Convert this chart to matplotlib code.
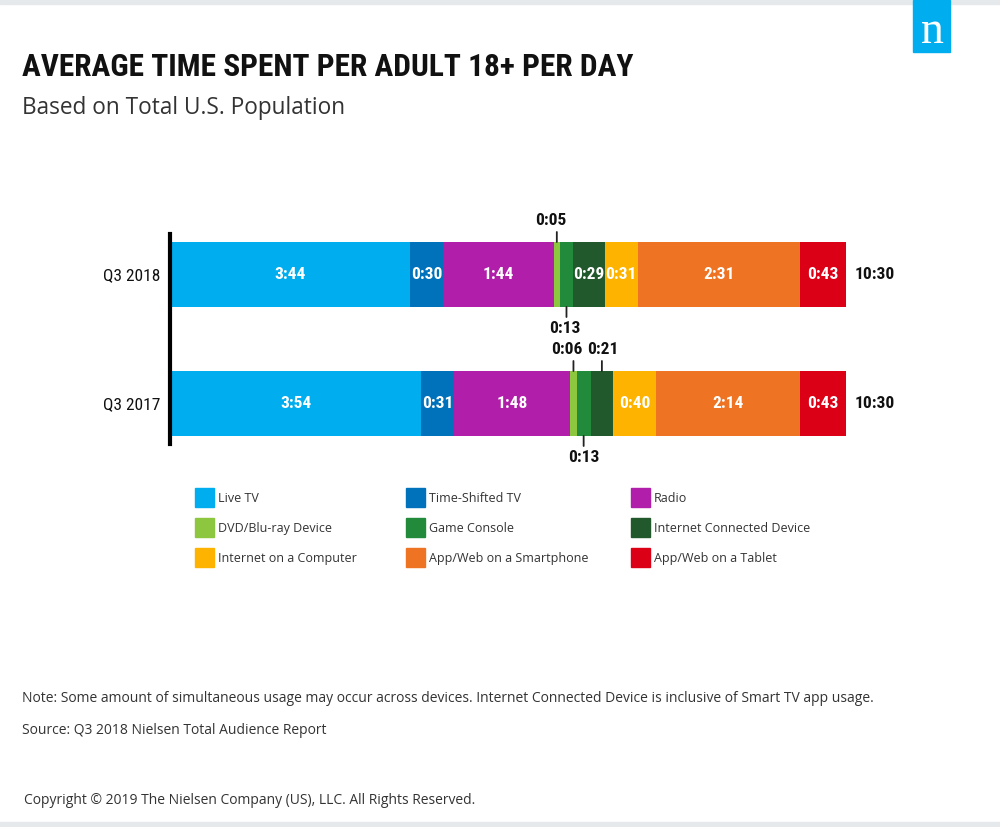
import matplotlib.pyplot as plt
from matplotlib.patches import Rectangle
from matplotlib import font_manager
import numpy as np

W, H = 1000, 827

years = ["Q3 2018", "Q3 2017"]
categories = ["Live TV", "Time-Shifted TV", "Radio",
              "DVD/Blu-ray Device", "Game Console", "Internet Connected Device",
              "Internet on a Computer", "App/Web on a Smartphone", "App/Web on a Tablet"]
colors = ["#00AEEF", "#0072BC", "#B01EAA",
          "#8DC63F", "#228B3B", "#21582C",
          "#FDB300", "#EE7322", "#DC0017"]
# minutes per day
q3_2018 = [224, 30, 104, 5, 13, 29, 31, 151, 43]
q3_2017 = [234, 31, 108, 6, 13, 21, 40, 134, 43]
series = [q3_2018, q3_2017]

# small segments labelled outside the bar: (row, category, side, label shift px)
callouts = [(0, 3, "top", -6), (0, 4, "bottom", -2),
            (1, 3, "top", -7), (1, 5, "top", 1), (1, 4, "bottom", 0)]

title = "AVERAGE TIME SPENT PER ADULT 18+ PER DAY"
subtitle = "Based on Total U.S. Population"
note = ("Note: Some amount of simultaneous usage may occur across devices. "
        "Internet Connected Device is inclusive of Smart TV app usage.")
source = "Source: Q3 2018 Nielsen Total Audience Report"
copyright_txt = "Copyright \u00a9 2019 The Nielsen Company (US), LLC. All Rights Reserved."


def first_font(names):
    for n in names:
        try:
            font_manager.findfont(n, fallback_to_default=False)
            return n
        except ValueError:
            pass
    return "DejaVu Sans"


cond_name = first_font(["Roboto Condensed", "Liberation Sans Narrow", "DejaVu Sans Condensed", "Roboto"])
COND = [cond_name, "DejaVu Sans"]
SANS = ["Open Sans", "DejaVu Sans"]


def hm(m):
    return f"{m // 60}:{m % 60:02d}"


def fx(x):
    return x / W


def fy(y):
    return 1 - y / H


fig = plt.figure(figsize=(W / 100, H / 100), dpi=100)

# grey bands top and bottom
fig.patches.append(Rectangle((0, fy(4)), 1, 4 / H, transform=fig.transFigure, color="#E6E9EC"))
fig.patches.append(Rectangle((0, 0), 1, fy(822), transform=fig.transFigure, color="#E6E9EC"))

# logo
fig.patches.append(Rectangle((fx(913), fy(52)), 37 / W, 52 / H, transform=fig.transFigure,
                             color="#00AEEF", zorder=2))
fig.text(fx(932), fy(43), "n", color="white", fontsize=33, family="Liberation Serif",
         ha="center", va="baseline", zorder=3)

fig.text(fx(22), fy(76), title, va="baseline", fontsize=22.6, family=COND, weight="bold", color="#111")
fig.text(fx(22), fy(114), subtitle, va="baseline", fontsize=16.3, family=SANS, color="#333")

# bars
ax = fig.add_axes([fx(170), fy(444), 676 / W, 210 / H])
ax.patch.set_visible(False)
total = max(sum(s) for s in series)
bar_h = 0.504
ax.set_xlim(0, total)
ax.set_ylim(1.314, -0.314)

outside = {(r, c): (side, dx) for r, c, side, dx in callouts}

for i, vals in enumerate(series):
    vals = np.array(vals)
    lefts = np.concatenate([[0], np.cumsum(vals)[:-1]])
    ax.barh(i, vals, left=lefts, height=bar_h, color=colors)
    for j, (v, l) in enumerate(zip(vals, lefts)):
        cx = l + v / 2
        if (i, j) in outside:
            side, dx = outside[(i, j)]
            sgn = 1 if side == "top" else -1
            edge = i - bar_h / 2 if side == "top" else i + bar_h / 2
            ax.annotate("", xy=(cx, edge), xytext=(0, sgn * 10), textcoords="offset pixels",
                        arrowprops=dict(arrowstyle="-", color="#222", lw=1.3,
                                        shrinkA=0, shrinkB=0))
            ax.annotate(hm(int(v)), xy=(cx, edge), xytext=(dx, sgn * 21),
                        textcoords="offset pixels", ha="center", va="center",
                        fontsize=12.5, weight="bold", family=COND, color="#111")
        else:
            ax.text(cx, i, hm(int(v)), ha="center", va="center", color="white",
                    fontsize=12.5, weight="bold", family=COND)
    ax.annotate(hm(int(vals.sum())), xy=(vals.sum(), i), xytext=(9, 0),
                textcoords="offset pixels", ha="left", va="center",
                fontsize=12.5, weight="bold", family=COND, color="#111")

for s in ["top", "right", "bottom"]:
    ax.spines[s].set_visible(False)
ax.spines["left"].set_linewidth(3)
ax.spines["left"].set_color("black")
ax.set_xticks([])
ax.set_yticks([0, 1], years, fontsize=12.5, family=COND, color="#111")
ax.tick_params(axis="y", length=0, pad=7)

# legend
col_x = [195, 406, 631]
row_y = [497, 527, 557]
for k, (name, c) in enumerate(zip(categories, colors)):
    r, cl = divmod(k, 3)
    fig.patches.append(Rectangle((fx(col_x[cl]), fy(row_y[r] + 9.5)), 19 / W, 19 / H,
                                 transform=fig.transFigure, color=c))
    fig.text(fx(col_x[cl] + 23), fy(row_y[r]), name, va="center_baseline", fontsize=9,
             family=SANS, color="#333")

fig.text(fx(22), fy(699), note, va="center", fontsize=10, family=SANS, color="#333")
fig.text(fx(22), fy(731), source, va="center", fontsize=10, family=SANS, color="#333")
fig.text(fx(24), fy(800), copyright_txt, va="center", fontsize=10, family=SANS, color="#333")

fig.savefig("out.png", dpi=100)
